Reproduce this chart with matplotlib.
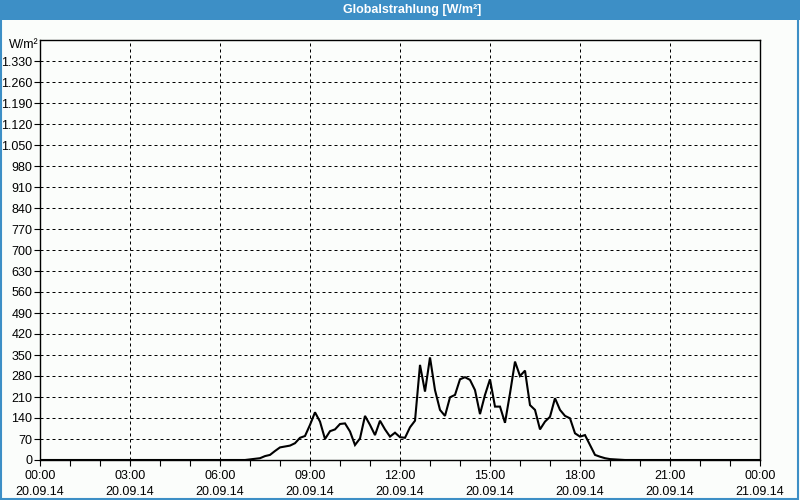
import matplotlib
matplotlib.use("Agg")
import matplotlib.pyplot as plt
from matplotlib.patches import Rectangle
import numpy as np

# ---- data (10-minute values, W/m², 20.09.14) ----
day_start_hour = 7.0          # first non-zero sample at 07:00
step_minutes = 10
radiation = [2, 4, 6, 13, 17, 30, 42, 45, 48, 56, 74, 80,
             117, 159, 128, 70, 96, 102, 120, 122, 95, 50, 72, 147,
             117, 83, 131, 102, 78, 91, 76, 74, 109, 131, 317, 228,
             342, 233, 167, 147, 209, 217, 269, 276, 267, 233, 153, 217,
             269, 178, 178, 124, 222, 328, 280, 298, 183, 167, 102, 128,
             144, 206, 167, 147, 139, 89, 78, 83, 50, 17, 11, 6,
             3, 2, 1]

tick_hours = [0, 3, 6, 9, 12, 15, 18, 21, 24]
tick_labels = ["00:00\n20.09.14", "03:00\n20.09.14", "06:00\n20.09.14",
               "09:00\n20.09.14", "12:00\n20.09.14", "15:00\n20.09.14",
               "18:00\n20.09.14", "21:00\n20.09.14", "00:00\n21.09.14"]
y_ticks = list(range(0, 1400, 70))
title = "Globalstrahlung [W/m²]"
unit = "W/m²"

# full-day series: zeros outside the daylight window
day_hours = day_start_hour + np.arange(len(radiation)) * step_minutes / 60.0
hours = np.concatenate([[0.0], [day_start_hour - step_minutes / 60.0], day_hours,
                        [day_hours[-1] + step_minutes / 60.0], [24.0]])
values = np.concatenate([[0.0], [0.0], radiation, [0.0], [0.0]])

bg = "#fbfdfb"
blue = "#3d8fc6"
plt.rcParams["font.family"] = ["Liberation Sans", "DejaVu Sans"]

fig = plt.figure(figsize=(8, 5), dpi=100, facecolor=bg)
ax = fig.add_axes([40 / 800, 40 / 500, 720 / 800, 420 / 500], facecolor=bg)

ax.plot(hours, values, color="black", lw=1.5, solid_joinstyle="miter", zorder=3)

ax.set_xlim(0, 24)
ax.set_ylim(0, 1400)
ax.set_xticks(tick_hours)
ax.set_xticklabels(tick_labels, fontsize=9, linespacing=1.5)
ax.set_xticks(np.arange(0, 25, 1), minor=True)
ax.set_yticks(y_ticks)
ax.set_yticklabels([f"{v:,}".replace(",", ".") for v in y_ticks], fontsize=9)

ax.tick_params(axis="x", which="both", direction="out", length=4, width=0.8,
               color="black", pad=3)
ax.tick_params(axis="y", which="both", direction="out", length=4, width=0.8,
               color="black", pad=1.5)
ax.grid(True, which="major", color="black", lw=0.72, linestyle=(0, (3, 3)))
for s in ax.spines.values():
    s.set_color("black")
    s.set_linewidth(1.0)

fig.text(9 / 800, 1 - 45 / 500, unit, ha="left", va="center", fontsize=9)

# title bar and border
fig.patches.append(Rectangle((0, 1 - 20 / 500), 1, 20 / 500, transform=fig.transFigure,
                             facecolor=blue, edgecolor="none", zorder=0))
fig.patches.append(Rectangle((0.001, 0.002), 0.997, 0.996, transform=fig.transFigure,
                             facecolor="none", edgecolor=blue, lw=1.5, zorder=1))
fig.text(412 / 800, 1 - 10 / 500, title, ha="center", va="center", color="white",
         fontsize=9, fontweight="bold")

fig.savefig("out.png", dpi=100, facecolor=bg)
